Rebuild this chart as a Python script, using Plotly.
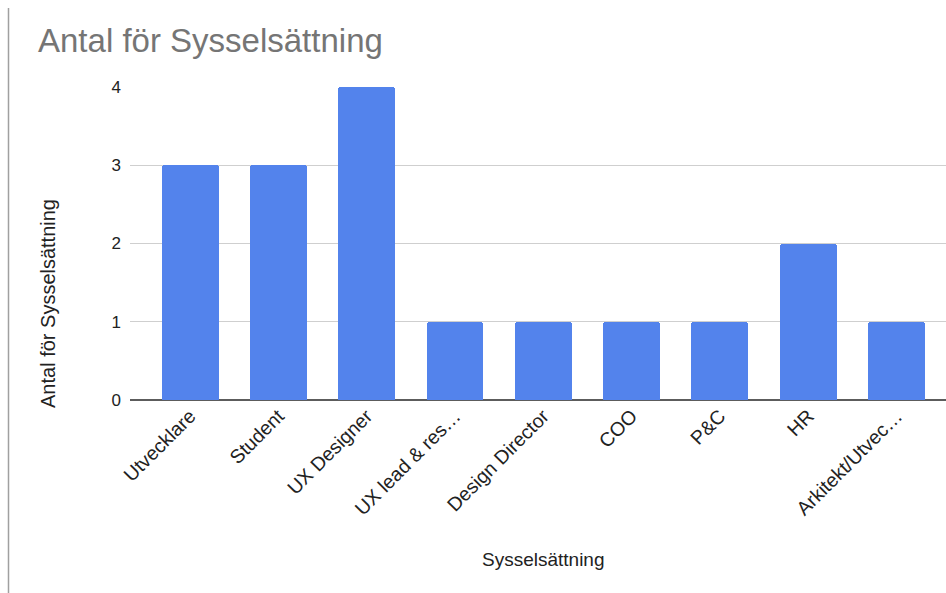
import plotly.graph_objects as go

# Antal personer per sysselsättning
categories = ["Utvecklare", "Student", "UX Designer", "UX lead & res…", "Design Director",
              "COO", "P&C", "HR", "Arkitekt/Utvec…"]
counts = [3, 3, 4, 1, 1, 1, 1, 2, 1]
y_ticks = [0, 1, 2, 3, 4]

FONT = "Liberation Sans, Arial, sans-serif"
W, H = 946, 593
ML, MR, MT, MB = 130, 0, 87, 193
PW, PH = W - ML - MR, H - MT - MB


def px_to_paper_x(px):
    return (px - ML) / PW


def px_to_paper_y(py):
    return 1 - (py - MT) / PH


fig = go.Figure(
    go.Bar(
        x=categories,
        y=counts,
        width=0.645,
        marker=dict(color="#5383EC", cornerradius=3, line=dict(width=0)),
        hoverinfo="x+y",
    )
)

fig.update_layout(
    width=W,
    height=H,
    margin=dict(l=ML, r=MR, t=MT, b=MB),
    paper_bgcolor="white",
    plot_bgcolor="white",
    showlegend=False,
    font=dict(family=FONT, color="#222222"),
    title=dict(
        text="Antal för Sysselsättning",
        font=dict(family=FONT, size=33, color="#757575"),
        xref="container", yref="container",
        x=38 / W, xanchor="left",
        y=1 - 40 / H, yanchor="middle",
    ),
    bargap=0,
)

fig.update_xaxes(
    type="category",
    range=[-0.68, 8.56],
    tickangle=-45,
    tickfont=dict(family=FONT, size=19.5, color="#222222"),
    showgrid=False,
    showline=False,
    ticks="",
    zeroline=False,
)

fig.update_yaxes(
    range=[0, 4],
    tickvals=y_ticks,
    ticktext=[str(v) for v in y_ticks],
    tickfont=dict(family=FONT, size=17, color="#222222"),
    showgrid=True,
    gridcolor="#cfcfcf",
    gridwidth=1,
    zeroline=True,
    zerolinecolor="#5c5c5c",
    zerolinewidth=1.6,
    showline=False,
    ticks="",
    ticklabelstandoff=8,
)

# Axis titles
fig.add_annotation(
    text="Sysselsättning", showarrow=False,
    xref="paper", yref="paper",
    x=px_to_paper_x(543), y=px_to_paper_y(559),
    xanchor="center", yanchor="middle",
    font=dict(family=FONT, size=19, color="#222222"),
)
fig.add_annotation(
    text="Antal för Sysselsättning", showarrow=False, textangle=-90,
    xref="paper", yref="paper",
    x=px_to_paper_x(48), y=px_to_paper_y(304),
    xanchor="center", yanchor="middle",
    font=dict(family=FONT, size=20, color="#222222"),
)

# Thin frame line along the left edge
fig.add_shape(
    type="line", xref="paper", yref="paper",
    x0=px_to_paper_x(8.5), x1=px_to_paper_x(8.5),
    y0=px_to_paper_y(8), y1=px_to_paper_y(H),
    line=dict(color="#a0a0a0", width=1.5),
)

fig.write_html("out.html")
